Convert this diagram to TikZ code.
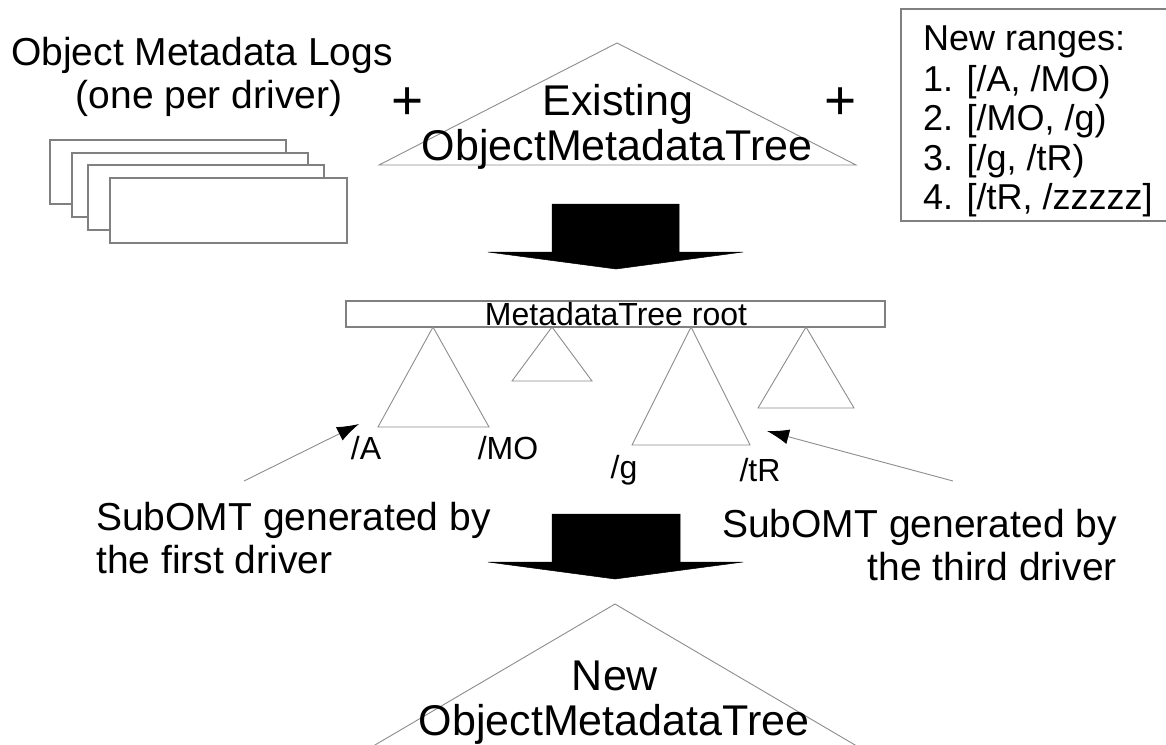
\documentclass[tikz,border=0pt]{standalone}
\usepackage{fontspec}
\setmainfont{Liberation Sans}
\usetikzlibrary{arrows.meta}
\definecolor{edgegray}{RGB}{128,128,128}
\definecolor{thingray}{RGB}{140,140,140}
\tikzset{
  big/.style={inner sep=0pt, font=\fontsize{39}{45}\selectfont},
  treetext/.style={inner sep=0pt, font=\fontsize{43}{45}\selectfont},
  rangetext/.style={inner sep=0pt, anchor=base west, font=\fontsize{36}{40}\selectfont},
  small/.style={inner sep=0pt, font=\fontsize{32}{36}\selectfont},
  plussign/.style={inner sep=0pt, anchor=base, font=\fontsize{55}{58}\selectfont},
  logsheet/.style={draw=edgegray, line width=1.2pt, fill=white},
  tree/.style={draw=thingray, line width=0.9pt},
  blockarrow/.style={fill=black, draw=black, line width=0.5pt, line join=miter},
  pointer/.style={draw=thingray, line width=0.9pt, -{Latex[length=22pt,width=15pt,color=black,fill=black]}}
}
\begin{document}
\begin{tikzpicture}[x=1pt, y=-1pt]
\useasboundingbox (0,0) rectangle (1166,744);
\clip (0,0) rectangle (1166,744);

% --- inputs: per-driver logs
\node[big, anchor=base] (logs1) at (202,65) {Object Metadata Logs};
\node[big, anchor=base] (logs2) at (209,108) {(one per driver)};
\draw[logsheet] (50,140) rectangle (286,204);
\draw[logsheet] (72,153) rectangle (308,217);
\draw[logsheet] (88,165) rectangle (324,230);
\draw[logsheet] (110,178) rectangle (347,243);

\node[plussign] (plus1) at (408,119) {+};

% --- existing tree
\draw[tree] (617,43) -- (856,165) -- (379,165) -- cycle;
\node[treetext, anchor=base] (exist1) at (618,115) {Existing};
\node[treetext, anchor=base] (exist2) at (617,160) {ObjectMetadataTree};

\node[plussign] (plus2) at (841,119) {+};

% --- list of new key ranges
\draw[edgegray, line width=1.2pt] (901,9) rectangle (1175,221);
\node[rangetext] (r0) at (923,50)  {New ranges:};
\node[rangetext] (r1) at (923,91)  {1. [/A, /MO)};
\node[rangetext] (r2) at (923,130) {2. [/MO, /g)};
\node[rangetext] (r3) at (923,170) {3. [/g, /tR)};
\node[rangetext] (r4) at (923,209) {4. [/tR, /zzzzz]};

% --- first step
\path[blockarrow] (552,204) -- (679,204) -- (679,252) -- (743,252) -- (616,269)
  -- (488,252) -- (552,252) -- cycle;

% --- root with sub-trees
\draw[edgegray, line width=1.1pt] (346,301) rectangle (885,327);
\node[small, anchor=base] (root) at (616,325) {MetadataTree root};
\draw[tree] (433,327) -- (489,427) -- (378,427) -- cycle;
\draw[tree] (552,327) -- (592,381) -- (512,381) -- cycle;
\draw[tree] (691,327) -- (750,445) -- (632,445) -- cycle;
\draw[tree] (806,327) -- (854,408) -- (758,408) -- cycle;

\node[small, anchor=base] (kA)  at (366,459) {/A};
\node[small, anchor=base] (kMO) at (508,459) {/MO};
\node[small, anchor=base] (kg)  at (624,478) {/g};
\node[small, anchor=base] (ktR) at (760,481) {/tR};

% --- annotations
\node[big, anchor=base west] (first1) at (96,530) {SubOMT generated by};
\node[big, anchor=base west] (first2) at (96,573) {the first driver};
\node[big, anchor=base east] (third1) at (1117,537) {SubOMT generated by};
\node[big, anchor=base east] (third2) at (1117,580) {the third driver};

\coordinate (firstfrom) at (244,481);
\coordinate (firstto) at (359,424);
\coordinate (thirdfrom) at (953,481);
\coordinate (thirdto) at (767,431);
\draw[pointer] (firstfrom) -- (firstto);
\draw[pointer] (thirdfrom) -- (thirdto);

% --- second step
\path[blockarrow] (552,514) -- (680,514) -- (680,562) -- (743,562) -- (615,579)
  -- (488,562) -- (552,562) -- cycle;

% --- resulting tree
\draw[tree] (615,604) -- (884,762) -- (346,762) -- cycle;
\node[treetext, anchor=base] (new1) at (615,690) {New};
\node[treetext, anchor=base] (new2) at (614,735) {ObjectMetadataTree};
\end{tikzpicture}
\end{document}
